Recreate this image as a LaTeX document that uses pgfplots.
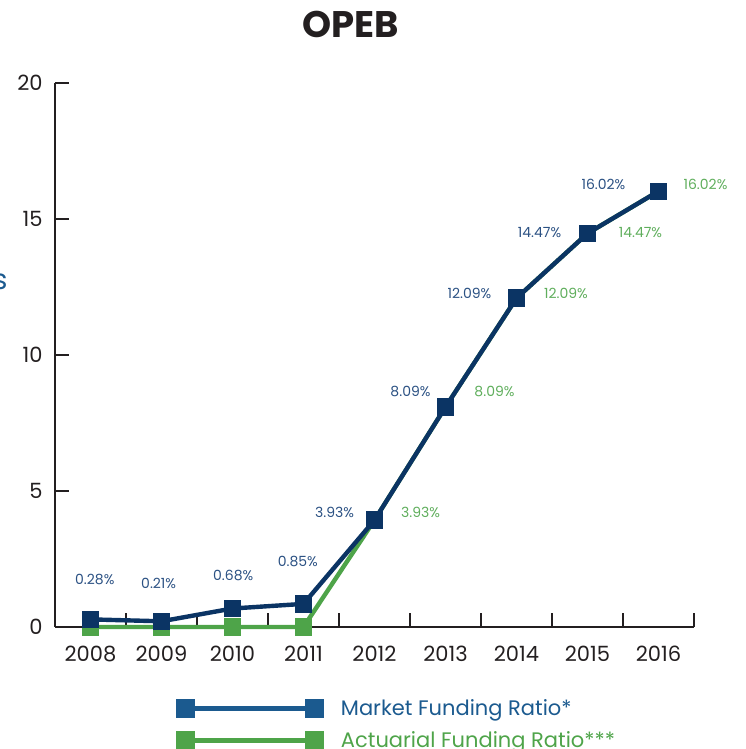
\documentclass[border=0pt]{standalone}
\usepackage{pgfplots}
\pgfplotsset{compat=1.18}
\usepackage{fontspec}
\setmainfont{Poppins}
\definecolor{navy}{HTML}{0B3464}
\definecolor{lblue}{HTML}{2B5183}
\definecolor{legblue}{HTML}{1B5A8F}
\definecolor{grn}{HTML}{4EA449}
\definecolor{lgrn}{HTML}{5FAE5C}
\definecolor{axisc}{HTML}{231F20}
\tikzset{lbl/.style={font=\fontsize{7}{8}\selectfont, inner sep=0pt}}
\begin{document}
\begin{tikzpicture}
\useasboundingbox (0,0) rectangle (372.5pt,374.5pt);
\clip (0,0) rectangle (372.5pt,374.5pt);
\node[font=\fontsize{18.5}{21}\selectfont\bfseries, text=axisc, inner sep=0pt] at (175.5pt,362.25pt) {OPEB};
\node[anchor=east, inner sep=0pt, text=legblue, font=\fontsize{14}{16}\selectfont] at (4pt,233.5pt) {s};
\begin{axis}[
  scale only axis, width=319.5pt, height=272pt,
  at={(27.5pt,61pt)}, anchor=south west,
  xmin=-0.5, xmax=8.5, ymin=0, ymax=20,
  axis x line*=bottom, axis y line*=left,
  axis line style={axisc, line width=1pt},
  xtick={0.5,1.5,2.5,3.5,4.5,5.5,6.5,7.5,8.5},
  xticklabels={},
  extra x ticks={0,1,2,3,4,5,6,7,8},
  extra x tick labels={2008,2009,2010,2011,2012,2013,2014,2015,2016},
  extra x tick style={major tick length=0pt},
  ytick={0,5,10,15,20},
  tick align=inside, major tick length=7pt,
  tick style={axisc, line width=1pt},
  ticklabel style={font=\fontsize{10.5}{12}\selectfont, text=axisc, inner sep=0pt},
  /pgf/number format/assume math mode=true,
  yticklabel style={xshift=-6pt},
  xticklabel style={yshift=-9.5pt},
  clip=false,
  legend cell align=left,
  legend image code/.code={\draw[#1, mark repeat=1] plot coordinates {(0pt,1pt) (64.5pt,1pt)};},
  legend style={at={(axis description cs:0.194,-0.1354)}, anchor=north west, draw=none, fill=none,
    inner sep=0pt, outer sep=0pt, column sep=9.5pt, row sep=6pt,
    font=\fontsize{10.5}{12}\selectfont,
    nodes={inner sep=0pt, text height=7.5pt, text depth=2.5pt}},
]
\addlegendimage{legblue, line width=2.5pt, mark=square*, mark size=3.5pt, mark options={solid}}
\addlegendentry{\textcolor{legblue}{Market Funding Ratio*}}
\addlegendimage{grn, line width=2.5pt, mark=square*, mark size=3.5pt, mark options={solid}}
\addlegendentry{\textcolor{grn}{Actuarial Funding Ratio***}}
\addplot[grn, line width=2.2pt, mark=square*, mark size=3.25pt, mark options={solid}, forget plot]
  coordinates {(0,0) (1,0) (2,0) (3,0) (4,3.93) (5,8.09) (6,12.09) (7,14.47) (8,16.02)};
\addplot[navy, line width=2.2pt, mark=square*, mark size=3.25pt, mark options={solid}, forget plot]
  coordinates {(0,0.28) (1,0.21) (2,0.68) (3,0.85) (4,3.93) (5,8.09) (6,12.09) (7,14.47) (8,16.02)};
\node[lbl, text=lblue] at (axis cs:0.06,1.765) {0.28\%};
\node[lbl, text=lblue] at (axis cs:0.96,1.62) {0.21\%};
\node[lbl, text=lblue] at (axis cs:2.01,1.91) {0.68\%};
\node[lbl, text=lblue] at (axis cs:2.92,2.39) {0.85\%};
\node[lbl, text=lblue] at (axis cs:3.437,4.23) {3.93\%};
\node[lbl, text=lgrn] at (axis cs:4.648,4.23) {3.93\%};
\node[lbl, text=lblue] at (axis cs:4.507,8.66) {8.09\%};
\node[lbl, text=lgrn] at (axis cs:5.69,8.66) {8.09\%};
\node[lbl, text=lblue] at (axis cs:5.338,12.28) {12.09\%};
\node[lbl, text=lgrn] at (axis cs:6.697,12.28) {12.09\%};
\node[lbl, text=lblue] at (axis cs:6.324,14.49) {14.47\%};
\node[lbl, text=lgrn] at (axis cs:7.746,14.49) {14.47\%};
\node[lbl, text=lblue] at (axis cs:7.225,16.27) {16.02\%};
\node[lbl, text=lgrn] at (axis cs:8.662,16.27) {16.02\%};
\end{axis}
\end{tikzpicture}
\end{document}
